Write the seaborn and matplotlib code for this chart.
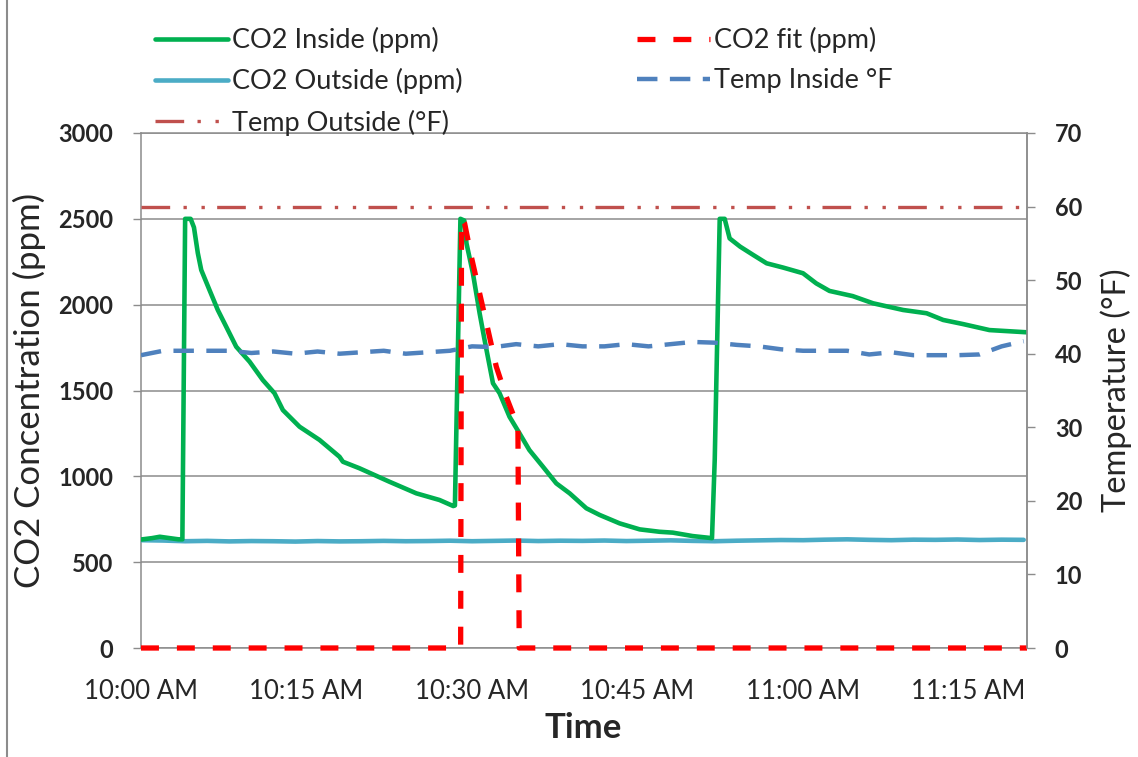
import matplotlib
matplotlib.use("Agg")
import matplotlib.pyplot as plt
import seaborn as sns
from matplotlib.lines import Line2D

# time in minutes after 10:00 AM
co2_in_min = [0, 1.0, 1.7, 2.6, 3.4, 3.75, 4.0, 4.5, 4.8, 5.15, 5.46, 6.21, 6.96, 7.72, 8.63,
              9.84, 11.04, 12.1, 12.86, 14.37, 16.18, 17.99, 18.3, 19.8, 22.5, 24.95, 27.06,
              28.3, 28.45, 28.95, 29.3, 29.5, 30.08, 30.69, 31.14, 31.9, 32.5, 33.4, 34.3,
              35.2, 36.43, 37.64, 38.85, 40.36, 41.57, 43.38, 45.2, 47.0, 48.2, 50.0, 51.75,
              52.0, 52.45, 52.9, 53.35, 54.3, 55.5, 56.7, 58.2, 60.0, 61.2, 62.4, 64.5, 66.35,
              69.07, 71.2, 72.7, 74.5, 76.9, 80.3]
co2_in_ppm = [632, 640, 648, 640, 633, 633, 2500, 2500, 2450, 2300, 2202, 2085, 1969, 1872, 1755,
              1668, 1561, 1484, 1386, 1289, 1212, 1114, 1085, 1047, 969, 901, 862,
              827, 830, 2500, 2490, 2357, 2183, 1950, 1794, 1542, 1484, 1347, 1251,
              1153, 1056, 959, 901, 814, 775, 726, 691, 677, 672, 652, 640,
              1100, 2500, 2500, 2386, 2338, 2289, 2241, 2216, 2183, 2124, 2080, 2050, 2008,
              1969, 1950, 1911, 1887, 1852, 1839]

fit_min = [0, 28.97, 29.05, 29.33, 29.94, 30.69, 31.45, 32.2, 33.1, 34.16, 34.28, 80.3]
fit_ppm = [0, 0, 2500, 2474, 2279, 2066, 1852, 1639, 1464, 1289, 0, 0]

step_min = list(range(0, 81, 2))
co2_out_ppm = [628, 626, 622, 624, 621, 623, 622, 620, 623, 621,
               622, 624, 622, 623, 625, 622, 624, 626, 623, 625,
               624, 626, 623, 625, 627, 624, 622, 625, 627, 629,
               628, 631, 633, 630, 628, 631, 630, 632, 629, 631, 630]
temp_in_f = [39.8, 40.4, 40.4, 40.4, 40.4, 40.1, 40.3, 40.0, 40.3, 40.0,
             40.2, 40.4, 40.0, 40.2, 40.4, 41.0, 40.9, 41.3, 41.0, 41.3,
             41.0, 41.0, 41.3, 41.0, 41.3, 41.6, 41.5, 41.2, 41.0, 40.6,
             40.4, 40.4, 40.4, 39.9, 40.2, 39.8, 39.8, 39.8, 39.9, 41.0, 41.7]

temp_out_min = [0, 80.3]
temp_out_f = [60, 60]

x_ticks = [0, 15, 30, 45, 60, 75]
x_labels = ["10:00 AM", "10:15 AM", "10:30 AM", "10:45 AM", "11:00 AM", "11:15 AM"]

GREEN = "#00B050"
CYAN = "#4BACC6"
RED = "#FF0000"
BLUE = "#4F81BD"
BROWN = "#C0504D"
GRAY = "#8C8C8C"

sns.set_theme(style="white")
plt.rcParams['font.family'] = ['Lato', 'DejaVu Sans']

W, H = 1138, 757
fig = plt.figure(figsize=(W / 100, H / 100), dpi=100)
ax = fig.add_axes([141 / W, 1 - 648 / H, (1027 - 141) / W, (648 - 133) / H])
ax2 = ax.twinx()

kw = dict(sort=False, estimator=None, legend=False)
sns.lineplot(x=step_min, y=co2_out_ppm, ax=ax, color=CYAN, linewidth=3.3, **kw)
h_out = ax.lines[-1]
sns.lineplot(x=co2_in_min, y=co2_in_ppm, ax=ax, color=GREEN, linewidth=3.3, **kw)
h_in = ax.lines[-1]
sns.lineplot(x=fit_min, y=fit_ppm, ax=ax, color=RED, linewidth=3.8, dashes=[3.4, 3.4],
             clip_on=False, zorder=3, **kw)
h_fit = ax.lines[-1]

sns.lineplot(x=step_min, y=temp_in_f, ax=ax2, color=BLUE, linewidth=3.2, dashes=[4.6, 2.8], **kw)
h_tin = ax2.lines[-1]
sns.lineplot(x=temp_out_min, y=temp_out_f, ax=ax2, color=BROWN, linewidth=2.4,
             dashes=[8.6, 4.0, 1, 4.4, 1, 3.7], **kw)
h_tout = ax2.lines[-1]

ax.set_xlim(0, 80.3)
ax.set_ylim(0, 3000)
ax2.set_ylim(0, 70)

ax.set_axisbelow(True)
ax.yaxis.grid(True, color=GRAY, linewidth=1.1)
ax.xaxis.grid(False)
for s in ax.spines.values():
    s.set_color(GRAY)
    s.set_linewidth(1.1)
    s.set_zorder(1)
for name, s in ax2.spines.items():
    s.set_color(GRAY)
    s.set_linewidth(1.1)
    s.set_visible(name == 'right')

ax.set_yticks(range(0, 3001, 500), [str(v) for v in range(0, 3001, 500)], fontweight='bold')
ax2.set_yticks(range(0, 71, 10), [str(v) for v in range(0, 71, 10)], fontweight='bold')
ax.set_xticks(x_ticks, x_labels)
ax.tick_params(axis='y', direction='out', length=6, width=1, color=GRAY, pad=14,
               labelsize=17, left=True)
ax2.tick_params(axis='y', direction='out', length=6, width=1, color=GRAY, pad=14,
                labelsize=17, right=True)
ax.tick_params(axis='x', length=0, pad=22, labelsize=18.5)

ax.set_xlabel("Time", fontsize=25, fontweight='bold')
ax.set_ylabel("CO2 Concentration (ppm)", fontsize=25)
ax2.set_ylabel("Temperature (°F)", fontsize=23.5)
ax.xaxis.set_label_coords(0.499, -0.125)
ax.yaxis.set_label_coords(-0.107, 0.5)
ax2.yaxis.set_label_coords(1.083, 0.5)

leg_kw = dict(frameon=False, fontsize=19.5, handlelength=2.7, handletextpad=0.15,
              labelspacing=0.56, borderpad=0, borderaxespad=0, loc='upper left')
leg1 = fig.legend([h_in, h_out, h_tout],
                  ["CO2 Inside (ppm)", "CO2 Outside (ppm)", "Temp Outside (°F)"],
                  bbox_to_anchor=(155 / W, 1 - 27 / H), **leg_kw)
leg2 = fig.legend([h_fit, h_tin], ["CO2 fit (ppm)", "Temp Inside °F"],
                  bbox_to_anchor=(637 / W, 1 - 27 / H), **leg_kw)

fig.add_artist(Line2D([7 / W, 7 / W], [0, 1], transform=fig.transFigure, color=GRAY, lw=1.5))

fig.savefig("out.png", dpi=100)
